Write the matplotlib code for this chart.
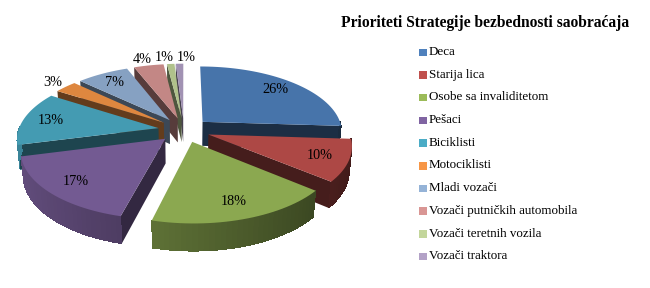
import numpy as np
import matplotlib

matplotlib.use("Agg")
import matplotlib.pyplot as plt  # noqa: E402
from matplotlib.patches import Polygon, Rectangle  # noqa: E402
from matplotlib.colors import to_rgb  # noqa: E402

# chart data
title = "Prioriteti Strategije bezbednosti saobraćaja"
categories = [
    "Deca",
    "Starija lica",
    "Osobe sa invaliditetom",
    "Pešaci",
    "Biciklisti",
    "Motociklisti",
    "Mladi vozači",
    "Vozači putničkih automobila",
    "Vozači teretnih vozila",
    "Vozači traktora",
]
shares = [26, 10, 18, 17, 13, 3, 7, 4, 1, 1]
colors = [
    "#4F81BD", "#C0504D", "#9BBB59", "#8064A2", "#4BACC6",
    "#F79646", "#95B3D7", "#D99694", "#C3D69B", "#B3A2C7",
]

# 3D view settings (pie of unit radius, projected to pixels)
CX, CY, SCALE = 184, 130, 140
TILT = np.radians(28)
DIST = 6.0
HEIGHT = 0.2
EXPLODE = 0.185
SERIF = "Liberation Serif"


def project(x, y, z):
    depth = y * np.cos(TILT) - z * np.sin(TILT)
    k = DIST / (DIST + depth)
    sx = x * k
    sy = (y * np.sin(TILT) + z * np.cos(TILT)) * k
    return CX + SCALE * sx, CY - SCALE * sy


def shade(color, f):
    r, g, b = to_rgb(color)
    return (r * f, g * f, b * f)


fig = plt.figure(figsize=(6.5, 2.88), dpi=100)
ax = fig.add_axes([0, 0, 1, 1])
ax.set_xlim(0, 650)
ax.set_ylim(288, 0)
ax.axis("off")

total = float(sum(shares))
cum = np.concatenate([[0], np.cumsum(shares)]) / total
slices = []
for i, v in enumerate(shares):
    a1 = 90 - 360 * cum[i]
    a2 = 90 - 360 * cum[i + 1]
    mid = np.radians((a1 + a2) / 2)
    slices.append((i, a1, a2, mid))

# back slices first
order = sorted(slices, key=lambda s: -np.sin(s[3]))
labels = []

for i, a1, a2, mid in order:
    col = colors[i]
    ox, oy = EXPLODE * np.cos(mid), EXPLODE * np.sin(mid)
    n = max(int(abs(a1 - a2) / 2) + 2, 3)
    ts = np.radians(np.linspace(a1, a2, n))
    xs, ys = ox + np.cos(ts), oy + np.sin(ts)
    top = [project(x, y, 0) for x, y in zip(xs, ys)]
    bot = [project(x, y, -HEIGHT) for x, y in zip(xs, ys)]
    apex_t = project(ox, oy, 0)
    apex_b = project(ox, oy, -HEIGHT)

    # radial walls
    if np.cos(np.radians(a1)) < 0:
        ax.add_patch(Polygon([apex_t, top[0], bot[0], apex_b],
                             closed=True, fc=shade(col, 0.4), ec="none"))
    if np.cos(np.radians(a2)) > 0:
        ax.add_patch(Polygon([apex_t, top[-1], bot[-1], apex_b],
                             closed=True, fc=shade(col, 0.36), ec="none"))
    # outer curved wall: base polygon, then shaded strips on top
    front = [k for k in range(n - 1) if np.sin((ts[k] + ts[k + 1]) / 2) < 0.02]
    if front:
        k0, k1 = front[0], front[-1] + 1
        tm = np.mean(ts[k0:k1 + 1])
        ax.add_patch(Polygon(top[k0:k1 + 1] + bot[k0:k1 + 1][::-1], closed=True,
                             fc=shade(col, 0.55 - 0.22 * np.cos(tm)), ec="none"))
        for k in front:
            tm = (ts[k] + ts[k + 1]) / 2
            c = shade(col, 0.55 - 0.22 * np.cos(tm))
            ax.add_patch(Polygon([top[k], top[k + 1], bot[k + 1], bot[k]],
                                 closed=True, fc=c, ec="none", antialiased=False))
    # top face
    ax.add_patch(Polygon([apex_t] + top, closed=True,
                         fc=shade(col, 0.9), ec="none"))

    # percentage label position
    r = 0.8 if shares[i] >= 7 else 1.14
    lx, ly = project(ox + r * np.cos(mid), oy + r * np.sin(mid), 0)
    labels.append([lx, ly, f"{shares[i]}%", shares[i] >= 7])

# spread the outside labels so they do not collide
outside = sorted([lb for lb in labels if not lb[3]], key=lambda lb: lb[0])
for _ in range(20):
    for a, b in zip(outside[:-1], outside[1:]):
        gap = b[0] - a[0]
        if gap < 22:
            a[0] -= (22 - gap) / 2
            b[0] += (22 - gap) / 2

for lx, ly, txt, _ in labels:
    ax.text(lx, ly, txt, ha="center", va="center", fontsize=10.3,
            family=SERIF, color="#000000")

# title
ax.text(485, 23, title, ha="center", va="center", fontsize=11.2,
        fontweight="bold", family=SERIF)

# legend
for i, name in enumerate(categories):
    y = 52 + i * 22.7
    ax.add_patch(Rectangle((419, y - 3.5), 7.5, 7.5, fc=colors[i], ec="none"))
    ax.text(429, y, name, ha="left", va="center", fontsize=9.4, family=SERIF)

fig.savefig("out.png", dpi=100)
